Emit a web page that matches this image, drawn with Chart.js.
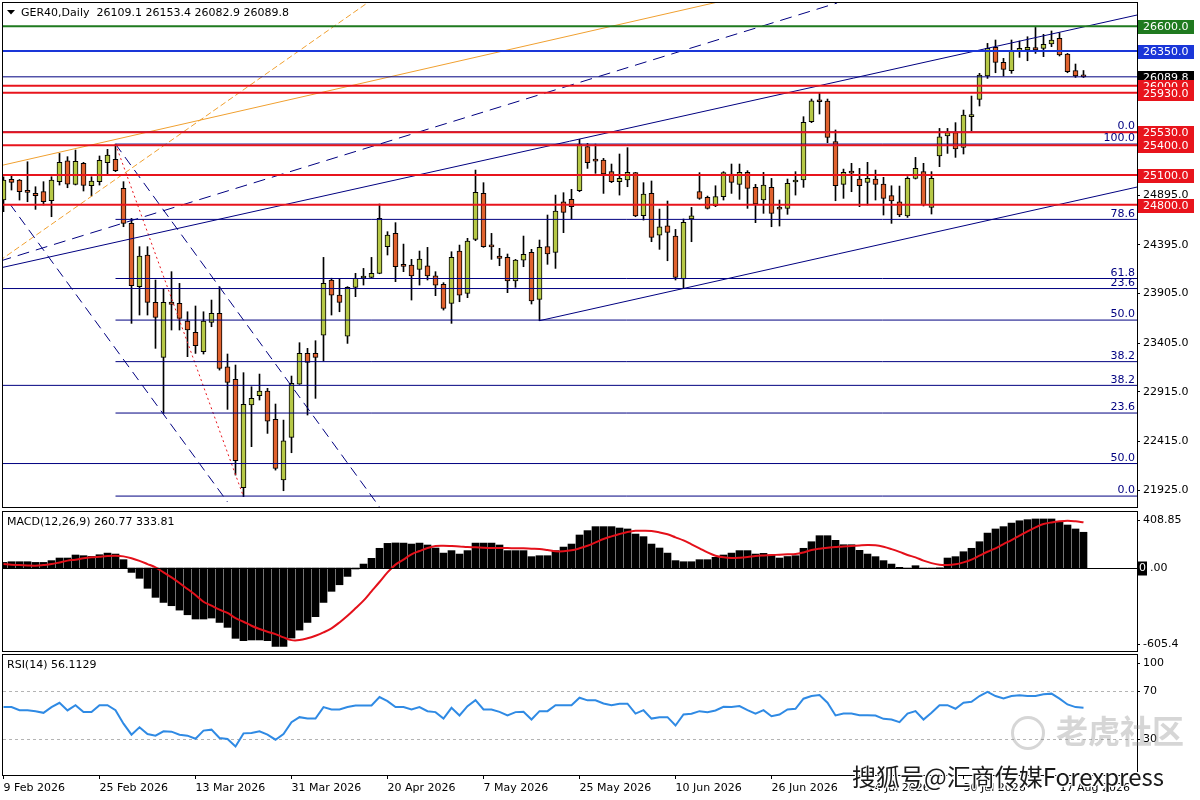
<!DOCTYPE html>
<html>
<head>
<meta charset="utf-8">
<script src="https://cdn.jsdelivr.net/npm/chart.js@4.4.1/dist/chart.umd.min.js"></script>
<style>
  html, body { margin: 0; padding: 0; background: #fff; }
  #wrap { position: relative; width: 1200px; height: 800px; overflow: hidden; background: #fff; }
  canvas { position: absolute; left: 0; }
  .wm { position: absolute; white-space: nowrap; font-family: "Noto Sans CJK SC", sans-serif; }
  #wm1 { left: 1056px; top: 706px; font-size: 32px; font-weight: bold; color: rgba(130,130,130,0.33); }
  #logo { position: absolute; left: 1011px; top: 716px; width: 28px; height: 28px; border: 3px solid rgba(130,130,130,0.33); border-radius: 50%; }
  #wm2 { left: 852px; top: 758px; font-size: 24px; color: #1a1a1a;
         text-shadow: -1px -1px 0 #fff, 1px -1px 0 #fff, -1px 1px 0 #fff, 1px 1px 0 #fff; }
</style>
</head>
<body>
<div id="wrap">
  <canvas id="priceChart" width="1200" height="509" style="top:0px;width:1200px;height:509px"></canvas>
  <canvas id="macdChart" width="1200" height="144" style="top:509px;width:1200px;height:144px"></canvas>
  <canvas id="rsiChart" width="1200" height="147" style="top:653px;width:1200px;height:147px"></canvas>
  <div id="logo"></div>
  <div class="wm" id="wm1">老虎社区</div>
  <div class="wm" id="wm2">搜狐号@汇商传媒Forexpress</div>
</div>
<script>
// daily candles, GER40
var opens = [24848,25056,25050,24930,24915,24932,24841,25033,25244,25006,
  25218,24992,25033,25224,25258,24966,24613,23974,24294,23816,
  23262,23820,23806,23628,23514,23319,23615,23706,23168,23040,
  21948,22782,22876,22923,22637,22026,22456,22993,23302,23302,
  23487,24042,23890,23477,23968,24062,24068,24109,24378,24512,
  24186,24193,24149,24186,24085,23998,23806,24334,23907,24452,
  24915,24380,24284,24270,24032,24243,24320,23847,24378,24320,
  24831,24855,24942,25386,25244,25251,25134,25033,25050,25124,
  24690,24915,24495,24589,24485,24052,24657,24932,24875,24791,
  24882,25110,25006,25127,24976,24848,24976,24760,24764,25030,
  25050,25638,25841,25846,25436,25006,25124,25060,25026,25060,
  25009,24892,24831,24687,25066,25134,24774,25292,25493,25527,
  25379,25688,25863,26098,26387,26236,26152,26353,26360,26384,
  26377,26421,26478,26320,26152,26109.1];
var highs = [25083,25100,25055,25234,24982,25033,25083,25318,25285,25352,
  25228,25083,25292,25359,25412,25033,24663,24378,24378,24042,
  23958,24126,24008,23722,23780,23722,23840,23974,23296,23185,
  23108,22966,23094,22950,22792,22630,23074,23410,23353,23430,
  24270,24060,24058,23975,24109,24159,24270,24808,24529,24620,
  24404,24250,24334,24371,24126,24015,24327,24394,24462,25150,
  25023,24512,24361,24304,24250,24485,24351,24445,24697,24898,
  24922,24956,25460,25419,25412,25268,25211,25312,25376,25127,
  25023,25040,24757,24838,24552,24657,24774,25124,24888,24992,
  25134,25211,25211,25144,25006,25127,25066,24848,25060,25134,
  25688,25866,25923,25866,25554,25160,25218,25167,25228,25150,
  25077,24992,24989,25083,25278,25218,25134,25570,25570,25628,
  25755,25896,26125,26427,26461,26276,26461,26451,26494,26588,
  26518,26552,26535,26326,26219,26153.4];
var lows = [24730,24949,24848,24831,24754,24798,24680,24999,24972,25000,
  24939,24888,24999,25100,25134,24579,23605,23689,23689,23353,
  22698,23538,23538,23269,23302,23296,23571,23134,22738,22076,
  21858,22362,22832,22496,22126,21918,22301,22990,22681,22849,
  23225,23689,23722,23403,23874,23991,24060,24105,24294,24025,
  24126,23840,23991,24042,23884,23739,23605,23823,23864,24438,
  24371,24250,24186,23914,23968,24176,23800,23632,24200,24159,
  24519,24657,24932,25167,25117,24915,25023,24898,24982,24680,
  24646,24428,24351,24236,24042,23958,24428,24855,24757,24781,
  24848,24915,24855,24764,24620,24714,24579,24586,24704,24898,
  24976,25628,25715,25426,24841,24865,24932,24781,24798,24848,
  24697,24613,24680,24673,25060,24788,24707,25184,25318,25278,
  25312,25547,25796,26074,26131,26098,26125,26286,26252,26326,
  26293,26394,26300,26131,26084,26082.9];
var closes = [25050,25026,24932,24925,24892,24831,25050,25228,25009,25238,
  24996,25040,25248,25302,25144,24613,23984,24284,23816,23665,
  23816,23796,23655,23538,23380,23628,23706,23151,23010,22220,
  22788,22849,22923,22620,22143,22422,23000,23302,23212,23262,
  24008,23890,23816,23968,24058,24068,24109,24663,24495,24176,
  24180,24082,24253,24082,23991,23756,24270,23890,24435,24925,
  24378,24376,24260,24032,24243,24300,23830,24371,24304,24737,
  24724,24781,25412,25224,25240,25110,25033,25066,25127,24687,
  24908,24472,24579,24522,24068,24623,24690,24865,24764,24882,
  25124,25026,25127,24966,24808,24999,24714,24757,25016,25033,
  25631,25849,25839,25480,24992,25127,25120,24992,25066,25006,
  24865,24838,24697,25066,25167,24798,25066,25486,25527,25362,
  25705,25705,26108,26377,26236,26165,26350,26377,26387,26360,
  26417,26461,26310,26142,26098,26089.8];

// MACD(12,26,9)
var macdMain = [41,46,46,46,41,41,54,73,73,95,
  90,85,97,109,102,61,-32,-75,-148,-214,
  -251,-275,-307,-341,-372,-372,-365,-397,-433,-513,
  -530,-525,-525,-530,-572,-572,-511,-453,-397,-355,
  -251,-170,-122,-61,-7,29,71,144,180,183,
  182,175,182,168,146,109,127,102,127,182,
  182,182,168,127,127,127,83,90,90,127,
  153,175,241,273,302,302,302,292,285,248,
  229,175,146,109,54,46,46,61,61,78,
  95,109,127,127,102,107,95,73,84,90,
  144,192,236,236,202,170,170,129,102,83,
  54,29,5,0,17,0,0,2,73,83,
  119,144,192,255,285,302,328,345,353,358,
  358,358,338,314,285,261];
var macdSignal = [29,24,22,19,17,22,29,41,54,61,
  71,78,83,88,90,85,71,52,29,5,
  -32,-68,-109,-153,-197,-246,-275,-304,-328,-365,
  -392,-421,-445,-465,-482,-506,-526,-526,-513,-494,
  -470,-440,-397,-348,-294,-238,-170,-102,-32,25,
  62,100,124,146,161,163,161,158,153,151,
  148,146,146,146,144,144,141,139,131,122,
  122,129,144,163,187,212,231,248,263,272,
  272,270,260,246,224,202,173,144,114,90,
  78,73,75,80,88,92,95,97,100,102,
  114,131,141,148,153,158,161,165,168,166,
  155,138,118,95,78,54,36,24,22,27,
  41,61,90,119,144,175,204,236,268,297,
  321,333,341,345,341,334];

// RSI(14)
var rsiValues = [56.6,56.6,54,54,53.2,51.8,56.6,60.2,53.8,58.2,
  52.4,52.4,58.2,58.2,54,42.8,33.6,39.8,34.2,32.8,
  36.4,36.1,33.6,32.8,30.2,37,37.8,30.8,30,23.8,
  34.7,35,36.4,33.6,29.4,34.2,44,48.2,47,47,
  56.6,54.6,54.6,56.6,58,58,58,65,61.6,56.6,
  56.6,54.6,56.6,53.2,52.4,47,56,49.6,57.4,62.4,
  54.6,54.6,52.6,49.6,52.4,52.6,46.2,53.2,53.2,58.2,
  58.2,58.2,64.4,62.2,62.2,59.6,58.2,59.4,59.4,51.2,
  54,47,48.2,48.2,41.2,50.4,51,53.2,52.4,53.8,
  56.8,56.6,57.4,54,51.2,54,49,50.4,54.6,55.2,
  63.6,65.8,66.6,60.2,49.6,51.2,51.2,49.8,49.8,49.6,
  46.8,46.2,44,51.2,53.2,46.2,51.8,58.2,58.2,55.2,
  60.2,61,65.8,69.2,65.8,63.8,65.8,66.4,65.8,65.8,
  67.2,67.8,63.6,58.8,56.6,56.1];

// time axis
var dateTicks = [0,12,24,36,48,60,72,84,96,108,120,132];
var dateLabels = ['9 Feb 2026','25 Feb 2026','13 Mar 2026','31 Mar 2026','20 Apr 2026','7 May 2026',
  '25 May 2026','10 Jun 2026','26 Jun 2026','14 Jul 2026','30 Jul 2026','17 Aug 2026'];
var priceTicks = [21925, 22415, 22915, 23405, 23905, 24395, 24895];

// drawn objects
var redLevels = [26000, 25930, 25530, 25400, 25100, 24800];
var greenLevel = 26600;
var blueLevel = 26350;
var lastPrice = 26089.8;
var fibALabels = ['100.0','78.6','61.8','50.0','38.2','23.6','0.0'];
var fibAPrices = [25412, 24653, 24057, 23638, 23219, 22701, 21864];
var fibAStart = 14;
var fibBLabels = ['0.0','23.6','38.2','50.0'];
var fibBPrices = [25535, 23956, 22980, 22192];
// trend lines as [bar, price] anchors
var channelTop = [[-0.44, 24163], [141.7, 26713]];
var channelBottom = [[67, 23632], [141.7, 24979]];
var risingDashed = [[-0.5, 24231], [104.2, 26834]];
var orangeSolid = [[-0.5, 25192], [90, 26857]];
var orangeDashed = [[-0.5, 24236], [46, 26864]];
var fallUpper = [[14, 25412], [47.1, 21743]];
var fallLower = [[0.8, 24808], [28, 21805]];
var fibTrend = [[14, 25412], [30, 21858]];

var XMIN = -0.0625, XMAX = 141.6875;
var BULL = '#b6c846', BEAR = '#e0622e', NAVY = '#000080', RED = '#e8141c',
    GREEN = '#1f7a1f', BLUE = '#1a36d8', ORANGE = '#f0a030';
var AXIS_W = 63;

Chart.defaults.font.family = "'DejaVu Sans', sans-serif";
Chart.defaults.font.size = 11;
Chart.defaults.color = '#000';

function seg(pts, color, width, dash) {
  return {
    type: 'line',
    data: pts.map(function (p) { return {x: p[0], y: p[1]}; }),
    borderColor: color, borderWidth: width, borderDash: dash || [],
    pointRadius: 0, fill: false, tension: 0, order: 0
  };
}
function hline(price, from, color, width) {
  return seg([[from, price], [XMAX + 1, price]], color, width);
}
// fixed axis width, and no extra room for half labels
function fixWidth(scale) {
  scale.width = AXIS_W;
  scale.paddingTop = 0;
  scale.paddingBottom = 0;
}
function frame(chart) {
  var ctx = chart.ctx, a = chart.chartArea;
  ctx.strokeStyle = '#000';
  ctx.lineWidth = 1;
  ctx.strokeRect(a.left - 0.5, a.top - 0.5, a.right - a.left + 1, a.bottom - a.top + 1);
}
function sideLabel(chart, text, y) {
  var ctx = chart.ctx, a = chart.chartArea;
  ctx.beginPath();
  ctx.moveTo(a.right, Math.round(y) + 0.5);
  ctx.lineTo(a.right + 3, Math.round(y) + 0.5);
  ctx.stroke();
  ctx.textAlign = 'left';
  ctx.textBaseline = 'middle';
  ctx.fillText(text, a.right + 6, y);
}

var idx = opens.map(function (_, i) { return i; });

// ---------- price panel ----------
var priceSets = [];
redLevels.forEach(function (p) { priceSets.push(hline(p, XMIN - 1, RED, 2)); });
priceSets.push(hline(greenLevel, XMIN - 1, GREEN, 2));
priceSets.push(hline(blueLevel, XMIN - 1, BLUE, 2));
priceSets.push(hline(lastPrice, XMIN - 1, NAVY, 1));
fibAPrices.forEach(function (p) { priceSets.push(hline(p, fibAStart, NAVY, 1)); });
fibBPrices.forEach(function (p) { priceSets.push(hline(p, XMIN - 1, NAVY, 1)); });
priceSets.push(seg(channelTop, NAVY, 1));
priceSets.push(seg(channelBottom, NAVY, 1));
priceSets.push(seg(risingDashed, NAVY, 1, [12, 7]));
priceSets.push(seg(fallUpper, NAVY, 1, [10, 6]));
priceSets.push(seg(fallLower, NAVY, 1, [10, 6]));
priceSets.push(seg(orangeSolid, ORANGE, 1));
priceSets.push(seg(orangeDashed, ORANGE, 1, [6, 3]));
priceSets.push(seg(fibTrend, RED, 1, [2, 3]));
priceSets.push({
  type: 'bar',
  data: idx.map(function (i) { return {x: i, y: [opens[i], closes[i]]}; }),
  backgroundColor: idx.map(function (i) { return closes[i] >= opens[i] ? BULL : BEAR; }),
  borderColor: '#000', borderWidth: 1, borderSkipped: false,
  barThickness: 5, minBarLength: 2, grouped: false, order: 10
});
priceSets.push({
  type: 'bar',
  data: idx.map(function (i) { return {x: i, y: [lows[i], highs[i]]}; }),
  backgroundColor: '#000', borderWidth: 0,
  barThickness: 1, grouped: false, order: 11
});

var pricePanel = {
  id: 'pricePanel',
  afterDraw: function (chart) {
    var ctx = chart.ctx, a = chart.chartArea, y = chart.scales.y;
    ctx.save();
    frame(chart);
    // header
    ctx.fillStyle = '#000';
    ctx.beginPath();
    ctx.moveTo(7, 10); ctx.lineTo(15, 10); ctx.lineTo(11, 14.5); ctx.closePath(); ctx.fill();
    ctx.textAlign = 'left'; ctx.textBaseline = 'middle';
    ctx.fillText('GER40,Daily  26109.1 26153.4 26082.9 26089.8', 21, 13);
    // fibo level texts
    ctx.fillStyle = NAVY;
    ctx.textAlign = 'right'; ctx.textBaseline = 'bottom';
    fibAPrices.forEach(function (p, k) { ctx.fillText(fibALabels[k], a.right - 2, y.getPixelForValue(p)); });
    fibBPrices.forEach(function (p, k) { ctx.fillText(fibBLabels[k], a.right - 2, y.getPixelForValue(p)); });
    // price tags on the axis
    var tags = [[lastPrice, '#000']];
    tags.push([redLevels[0], RED], [redLevels[1], RED], [greenLevel, GREEN], [blueLevel, BLUE]);
    redLevels.slice(2).forEach(function (p) { tags.push([p, RED]); });
    tags.forEach(function (t) {
      var py = Math.round(y.getPixelForValue(t[0]));
      ctx.fillStyle = t[1];
      ctx.fillRect(a.right + 1, py - 6, 56, 14);
      ctx.fillStyle = '#fff';
      ctx.textAlign = 'left'; ctx.textBaseline = 'middle';
      ctx.fillText(t[0].toFixed(1), a.right + 6, py + 1);
    });
    ctx.restore();
  }
};

new Chart(document.getElementById('priceChart'), {
  type: 'bar',
  data: {datasets: priceSets},
  options: {
    responsive: false, animation: false, devicePixelRatio: 1,
    layout: {padding: {left: 3, top: 3, bottom: 2, right: 0}},
    plugins: {legend: {display: false}, tooltip: {enabled: false}},
    scales: {
      x: {type: 'linear', min: XMIN, max: XMAX, offset: false, display: false},
      y: {
        type: 'linear', position: 'right', min: 21754, max: 26834,
        afterFit: fixWidth,
        afterBuildTicks: function (s) { s.ticks = priceTicks.map(function (v) { return {value: v}; }); },
        ticks: {callback: function (v) { return v.toFixed(1); }, padding: 3, autoSkip: false, color: '#000'},
        grid: {drawOnChartArea: false, drawTicks: true, tickLength: 3, color: '#000'},
        border: {display: false}
      }
    }
  },
  plugins: [pricePanel]
});

// ---------- MACD panel ----------
var macdPanel = {
  id: 'macdPanel',
  afterDraw: function (chart) {
    var ctx = chart.ctx, a = chart.chartArea, y = chart.scales.y;
    ctx.save();
    frame(chart);
    var zy = Math.round(y.getPixelForValue(0)) + 0.5;
    ctx.strokeStyle = '#000';
    ctx.beginPath(); ctx.moveTo(a.left, zy); ctx.lineTo(a.right + 3, zy); ctx.stroke();
    ctx.fillStyle = '#000';
    ctx.textAlign = 'left'; ctx.textBaseline = 'middle';
    ctx.fillText('MACD(12,26,9) 260.77 333.81', 7, a.top + 10);
    sideLabel(chart, '408.85', a.top + 8);
    sideLabel(chart, '-605.4', a.bottom - 7);
    ctx.fillRect(a.right + 1, zy - 7, 9, 14);
    ctx.fillText('.00', a.right + 13, zy);
    ctx.fillStyle = '#fff';
    ctx.fillText('0', a.right + 2, zy);
    ctx.restore();
  }
};

new Chart(document.getElementById('macdChart'), {
  type: 'bar',
  data: {
    datasets: [{
      type: 'line',
      data: idx.map(function (i) { return {x: i, y: macdSignal[i]}; }),
      borderColor: '#e4101a', borderWidth: 2, pointRadius: 0, tension: 0.35, fill: false, order: 0
    }, {
      type: 'bar',
      data: idx.map(function (i) { return {x: i, y: macdMain[i]}; }),
      backgroundColor: '#000', barThickness: 7, order: 1
    }]
  },
  options: {
    responsive: false, animation: false, devicePixelRatio: 1,
    layout: {padding: {left: 3, top: 3, bottom: 2, right: 0}},
    plugins: {legend: {display: false}, tooltip: {enabled: false}},
    scales: {
      x: {type: 'linear', min: XMIN, max: XMAX, offset: false, display: false},
      y: {
        type: 'linear', position: 'right', min: -605.4, max: 408.85,
        afterFit: fixWidth, ticks: {display: false}, grid: {display: false}, border: {display: false}
      }
    }
  },
  plugins: [macdPanel]
});

// ---------- RSI panel ----------
var rsiPanel = {
  id: 'rsiPanel',
  beforeDatasetsDraw: function (chart) {
    var ctx = chart.ctx, a = chart.chartArea, y = chart.scales.y;
    ctx.save();
    ctx.strokeStyle = '#b4b4b4';
    ctx.setLineDash([3, 3]);
    [70, 30].forEach(function (v) {
      var py = Math.round(y.getPixelForValue(v)) + 0.5;
      ctx.beginPath(); ctx.moveTo(a.left, py); ctx.lineTo(a.right, py); ctx.stroke();
    });
    ctx.restore();
  },
  afterDraw: function (chart) {
    var ctx = chart.ctx, a = chart.chartArea, y = chart.scales.y;
    ctx.save();
    frame(chart);
    ctx.fillStyle = '#000';
    ctx.textAlign = 'left'; ctx.textBaseline = 'middle';
    ctx.fillText('RSI(14) 56.1129', 7, a.top + 10);
    sideLabel(chart, '100', a.top + 8);
    sideLabel(chart, '70', y.getPixelForValue(70));
    sideLabel(chart, '30', y.getPixelForValue(30));
    ctx.restore();
  }
};

new Chart(document.getElementById('rsiChart'), {
  type: 'line',
  data: {
    datasets: [{
      data: idx.map(function (i) { return {x: i, y: rsiValues[i]}; }),
      borderColor: '#2f8ae4', borderWidth: 2, pointRadius: 0, tension: 0, fill: false
    }]
  },
  options: {
    responsive: false, animation: false, devicePixelRatio: 1,
    layout: {padding: {left: 3, top: 2, bottom: 0, right: 0}},
    plugins: {legend: {display: false}, tooltip: {enabled: false}},
    scales: {
      x: {
        type: 'linear', min: XMIN, max: XMAX, offset: false,
        afterFit: function (s) { s.height = 25; },
        afterBuildTicks: function (s) { s.ticks = dateTicks.map(function (v) { return {value: v}; }); },
        ticks: {
          autoSkip: false, maxRotation: 0, align: 'start', padding: 3, color: '#000',
          callback: function (v) { var k = dateTicks.indexOf(v); return k >= 0 ? dateLabels[k] : ''; }
        },
        grid: {drawOnChartArea: false, drawTicks: true, tickLength: 4, color: '#000'},
        border: {display: false}
      },
      y: {
        type: 'linear', position: 'right', min: 0, max: 100,
        afterFit: fixWidth, ticks: {display: false}, grid: {display: false}, border: {display: false}
      }
    }
  },
  plugins: [rsiPanel]
});
</script>
</body>
</html>
